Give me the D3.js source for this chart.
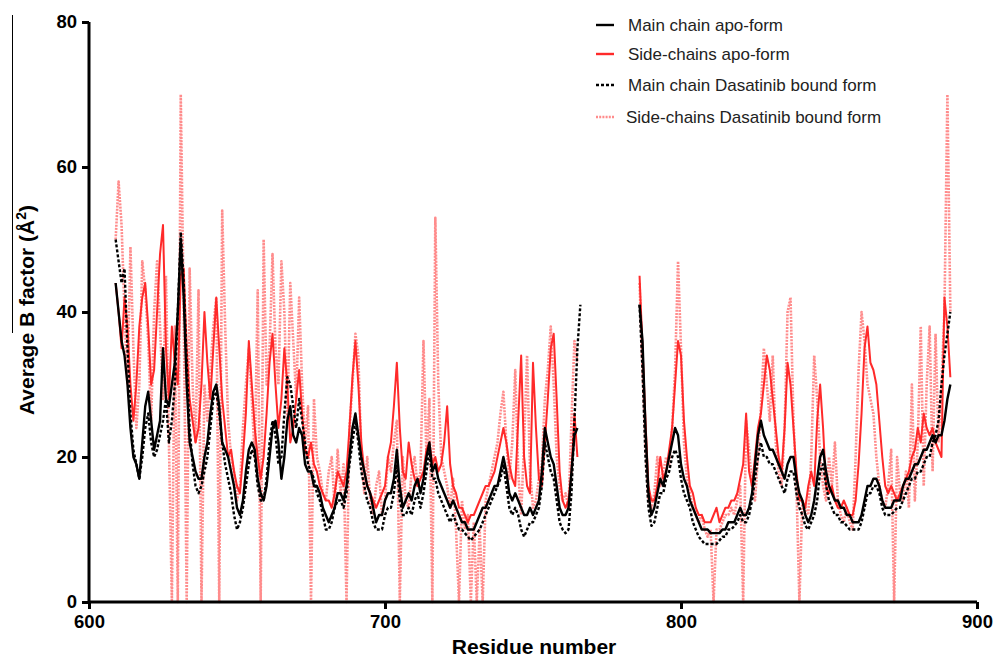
<!DOCTYPE html>
<html><head><meta charset="utf-8">
<script src="https://cdn.jsdelivr.net/npm/d3@7"></script>
<style>body{margin:0;background:#fff;}svg{display:block;font-family:"Liberation Sans",Arial,sans-serif;}</style>
</head><body><div id="chart"></div>
<script>
// x-axis ticks / y-axis ticks
const xTicks = [600, 700, 800, 900];
const yTicks = [0, 20, 40, 60, 80];
const seriesNames = ["Main chain apo-form", "Side-chains apo-form", "Main chain Dasatinib bound form", "Side-chains Dasatinib bound form"];

// residues of the two observed segments
const residuesA = d3.range(609, 766);      // 609..765
const residuesB = d3.range(786, 892);      // 786..891

// Main chain apo-form (segment A: 609-765, segment B: 786-891)
const mainApoA = [44,40,36,34,30,24,20,19,17,22,27,29,25,21,23,25,35,28,27,30,33,40,50,42,30,22,20,18,17,17,20,22,26,29,30,27,22,21,20,18,16,13,12,14,18,21,22,21,17,15,14,16,20,24,25,22,17,20,25,27,23,22,24,23,19,18,18,16,16,15,13,12,11,12,13,15,15,14,16,20,24,26,23,20,18,16,15,13,11,12,12,14,15,15,17,21,16,13,14,15,14,16,17,15,17,20,22,18,19,17,16,15,14,13,14,13,12,11,11,10,10,10,11,12,13,13,14,15,16,16,18,20,18,15,14,15,14,13,12,12,13,12,13,14,18,24,22,20,19,16,13,12,12,13,18,23,24];
const mainApoB = [41,36,24,15,12,13,15,17,16,18,20,22,24,23,19,17,16,14,13,12,11,10,10,10,9.5,9.5,9.5,9.5,10,10,11,11,11,12,13,12,12,13,15,19,23,25,23,22,21,21,20,19,18,17,19,20,20,17,15,14,12,11,12,14,17,20,21,18,16,15,14,14,13,13,12,12,11,11,11,12,14,16,16,17,17,16,14,13,13,13,14,14,14,16,17,17,18,19,19,20,21,21,22,23,22,23,23,25,28,30];

// Main chain Dasatinib bound form (segment A: 609-766)
const mainDasA = [50,47,44,46,35,26,21,19,17,20,24,26,22,20,21,23,25,28,22,25,30,40,51,44,33,24,19,16,15,16,18,20,24,28,29,26,22,19,17,15,12,10,11,13,16,19,21,20,16,14,14,17,22,25,23,19,20,26,31,30,27,24,28,25,22,19,18,17,15,14,12,10,10,11,13,14,14,13,15,19,22,25,22,18,16,14,13,11,10,10,10,12,13,13,15,19,14,12,12,13,12,14,15,13,15,18,21,17,17,15,14,13,12,11,12,11,10,10,9.5,9,8.5,9,9.5,10,11,12,13,14,15,16,17,19,16,13,12,13,12,10,9,10,11,11,12,13,16,22,20,18,17,14,11,10,9.5,10,15,25,35,41];
const mainDasB = [41,32,20,13,10.5,11,13,15,15,17,18,20,21,20,17,15,14,13,11,10,9,8.5,8,8,8,8,8,8.5,9,9,10,10,10.5,11,12,11,11,12,14,17,20,22,20,20,19,19,18,17,16,15,17,18,18,15,13,12,10.5,10,11,12,14,18,19,16,14,13,12,12,11,11,10.5,10,10,10,10,11,13,15,15,16,16,15,13,12,12,12,12.5,13,13,14,15,16,17,17,18,18,19,20,20,22,23,25,30,34,37,40];

// Side-chains apo-form
const sideApoA = [44,40,35,42,38,30,25,30,38,42,44,38,30,32,40,48,52,35,28,38,33,30,45,46,35,28,25,22,24,30,40,33,28,35,42,35,28,24,20,21,18,16,15,20,26,36,30,24,20,17,20,26,33,37,30,24,28,35,30,22,24,28,32,26,21,20,22,19,18,16,15,14,14,13,15,18,17,16,18,24,31,36,30,22,18,16,15,14,13,14,15,16,20,22,27,33,24,18,17,22,19,17,16,17,18,21,22,19,20,18,19,22,27,19,16,15,13,13,12,11,12,12,13,14,15,16,16,17,18,20,22,24,22,19,17,16,25,34,20,16,15,33,24,17,16,22,28,35,37,28,18,14,13,14,18,26,20];
const sideApoB = [45,35,25,16,14,14,16,20,17,18,21,24,30,36,34,25,20,16,15,13,12,12,11,11,11,12,13,11,12,13,13,14,14,15,17,19,26,18,16,20,24,26,30,34,32,28,24,20,18,24,33,30,24,18,14,14,13,16,18,16,25,30,24,16,15,16,14,13,13,14,13,12,12,14,19,26,35,38,33,32,30,25,20,16,15,16,15,14,15,16,17,18,20,21,24,22,26,24,23,24,22,21,20,42,38,31];

// Side-chains Dasatinib bound form
const sideDasA = [50,58,52,40,30,49,35,24,30,47,43,36,25,40,47,38,28,45,22,0,38,0,70,40,0,46,30,22,43,0,30,25,32,38,42,0,54,38,25,20,18,14,16,24,30,35,28,20,43,0,50,30,35,48,35,30,47,40,25,44,36,28,42,30,22,27,0,28,20,18,15,14,18,20,13,21,15,19,0,24,30,37,34,20,15,20,14,12,16,18,12,14,20,18,22,25,0,20,14,13,18,20,16,18,36,20,28,0,53,30,20,18,16,13,17,10,0,14,10,12,0,11,0,10,0,14,16,18,20,22,26,29,22,17,22,32,18,12,22,34,18,13,14,17,19,28,32,38,30,20,16,14,15,13,25,36,33];
const sideDasB = [44,32,22,14,13,15,20,16,18,20,19,24,32,47,35,22,17,15,13,12,11,12,10,9,10,0,10,10,11,12,12,13,12,14,16,0,25,21,16,14,20,27,35,30,25,34,22,18,16,24,40,42,25,16,0,14,13,12,20,34,28,20,16,14,20,16,22,14,12,11,13,11,10,20,32,40,36,30,28,26,20,16,14,13,16,21,0,20,15,14,18,13,30,14,22,38,16,30,38,18,37,22,30,40,70,40];

const W = 997, H = 658;
const svg = d3.select("#chart").append("svg").attr("width", W).attr("height", H);

const x = d3.scaleLinear().domain([600, 900]).range([89, 977]);
const y = d3.scaleLinear().domain([0, 80]).range([602, 22]);

function pts(resA, valsA, resB, valsB) {
  const a = valsA.map((v, i) => [resA[i], v]);
  const b = valsB.map((v, i) => [resB[i], v]);
  return a.concat([[null, null]], b);
}
const line = d3.line().defined(d => d[0] !== null).x(d => x(d[0])).y(d => y(d[1]));

const series = [
  {name: seriesNames[3], data: pts(d3.range(609, 609 + sideDasA.length), sideDasA, d3.range(786, 786 + sideDasB.length), sideDasB), color: "#ff8c8c", width: 2.6, dash: "2,1.2", op: 1},
  {name: seriesNames[1], data: pts(residuesA, sideApoA, residuesB, sideApoB), color: "#ff2a2a", width: 2, dash: null, op: 1},
  {name: seriesNames[2], data: pts(d3.range(609, 609 + mainDasA.length), mainDasA, residuesB, mainDasB), color: "#000", width: 2.4, dash: "3,2", op: 1},
  {name: seriesNames[0], data: pts(residuesA, mainApoA, residuesB, mainApoB), color: "#000", width: 2.4, dash: null, op: 1}
];

const g = svg.append("g");
series.forEach(s => {
  g.append("path").datum(s.data).attr("fill", "none").attr("stroke", s.color)
    .attr("stroke-width", s.width).attr("stroke-dasharray", s.dash).attr("stroke-opacity", s.op)
    .attr("stroke-linejoin", "round").attr("d", line);
});

// axes
const xAxis = svg.append("g").attr("transform", "translate(0,602)")
  .call(d3.axisBottom(x).tickValues(xTicks).tickSize(7).tickPadding(6).tickFormat(d3.format("d")));
const yAxis = svg.append("g").attr("transform", "translate(89,0)")
  .call(d3.axisLeft(y).tickValues(yTicks).tickSize(7).tickPadding(5));
[xAxis, yAxis].forEach(a => {
  a.select(".domain").attr("stroke", "#000").attr("stroke-width", 3);
  a.selectAll(".tick line").attr("stroke", "#000").attr("stroke-width", 3);
  a.selectAll(".tick text").attr("fill", "#000").style("font-size", "18.5px").style("font-weight", "bold")
    .style("font-family", "'Liberation Sans',Arial,sans-serif");
});
// make domains without end caps
xAxis.select(".domain").attr("d", `M${x(600)},0H${x(900)}`);
yAxis.select(".domain").attr("d", `M0,${y(0)}V${y(80)}`);

// axis titles
svg.append("text").attr("x", 534).attr("y", 654).attr("text-anchor", "middle")
  .style("font-size", "21px").style("font-weight", "bold").text("Residue number");
const yl = svg.append("text").attr("transform", "translate(34,310) rotate(-90)").attr("text-anchor", "middle")
  .style("font-size", "21px").style("font-weight", "bold");
yl.append("tspan").text("Average B factor (Å");
yl.append("tspan").attr("dy", -8).style("font-size", "14px").text("2");
yl.append("tspan").attr("dy", 8).text(")");

// stray left line
svg.append("line").attr("x1", 12.5).attr("x2", 12.5).attr("y1", 15).attr("y2", 333).attr("stroke", "#000").attr("stroke-width", 1);

// legend
const legRows = [
  {name: seriesNames[0], color: "#000", dash: null, y: 25, tx: 628},
  {name: seriesNames[1], color: "#ff2a2a", dash: null, y: 54, tx: 628},
  {name: seriesNames[2], color: "#000", dash: "3,2", y: 85, tx: 628},
  {name: seriesNames[3], color: "#ff8c8c", dash: "2,1.2", y: 117, tx: 626}
];
const leg = svg.append("g");
legRows.forEach(r => {
  leg.append("line").attr("x1", 596).attr("x2", 614).attr("y1", r.y).attr("y2", r.y)
    .attr("stroke", r.color).attr("stroke-width", 2.4).attr("stroke-dasharray", r.dash);
  leg.append("text").attr("x", r.tx).attr("y", r.y + 6).style("font-size", "17px").attr("fill", "#222").text(r.name);
});
</script></body></html>
